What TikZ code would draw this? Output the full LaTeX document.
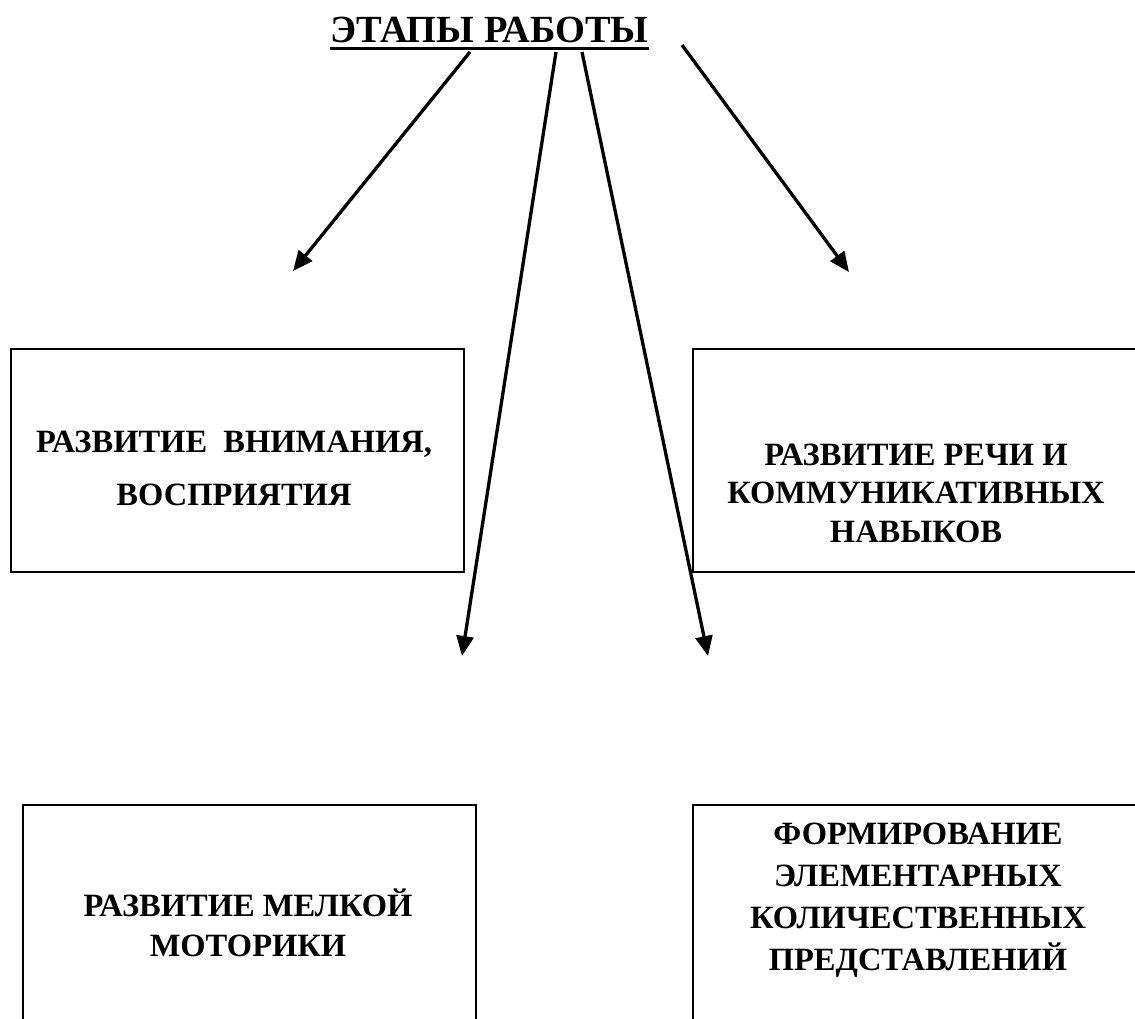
\documentclass[tikz,border=0pt]{standalone}
\usepackage{fontspec}
\setmainfont{Liberation Serif}
\usetikzlibrary{arrows.meta}
\tikzset{
  box/.style={draw, line width=1.8pt, anchor=north west, inner sep=0pt},
  boxtext/.style={align=center, font=\bfseries\fontsize{32.5}{#1}\selectfont, inner sep=0pt},
  arr/.style={line width=3.3pt, -{Triangle[length=20pt,width=17pt]}},
}
\begin{document}
\begin{tikzpicture}[x=1pt,y=-1pt]
\useasboundingbox (0,0) rectangle (1135,1018);
\clip (0,0) rectangle (1135,1018);
% title
\node[inner sep=0pt, anchor=base, font=\bfseries\fontsize{38.4}{42}\selectfont] (title) at (489.5,42) {ЭТАПЫ РАБОТЫ};
\draw[line width=3.2pt] ([yshift=-6.5pt]title.base west) -- ([yshift=-6.5pt]title.base east);
% boxes
\node[box, minimum width=453pt, minimum height=223pt] (b1) at (10,348) {};
\node[box, minimum width=453pt, minimum height=223pt] (b2) at (692,348) {};
\node[box, minimum width=453pt, minimum height=240pt] (b3) at (22,804) {};
\node[box, minimum width=453pt, minimum height=240pt] (b4) at (692,804) {};
% texts
\node[boxtext=53] (t1) at (234,468) {РАЗВИТИЕ\ \ ВНИМАНИЯ,\\ВОСПРИЯТИЯ};
\node[boxtext=38.5] (t2) at (916,493) {РАЗВИТИЕ РЕЧИ И\\КОММУНИКАТИВНЫХ\\НАВЫКОВ};
\node[boxtext=40] (t3) at (248,923) {РАЗВИТИЕ МЕЛКОЙ\\МОТОРИКИ};
\node[boxtext=42] (t4) at (918,900) {ФОРМИРОВАНИЕ\\ЭЛЕМЕНТАРНЫХ\\КОЛИЧЕСТВЕННЫХ\\ПРЕДСТАВЛЕНИЙ};
% arrow endpoints
\coordinate (s1) at (470,52);
\coordinate (e1) at (293,271);
\coordinate (s2) at (556,52);
\coordinate (e2) at (462,656);
\coordinate (s3) at (582,52);
\coordinate (e3) at (708,656);
\coordinate (s4) at (682,45);
\coordinate (e4) at (849,272);
\draw[arr] (s1) -- (e1);
\draw[arr] (s2) -- (e2);
\draw[arr] (s3) -- (e3);
\draw[arr] (s4) -- (e4);
\end{tikzpicture}
\end{document}
